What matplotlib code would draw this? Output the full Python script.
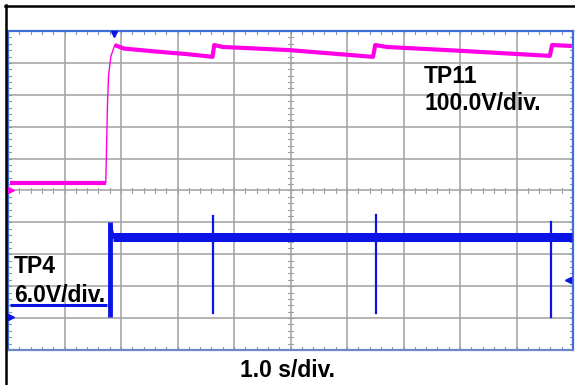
import matplotlib
matplotlib.use("Agg")
import matplotlib.pyplot as plt
import numpy as np

W, H = 575, 385

# ---- data (time in s, values in divisions) ----
tp11_t = [0.03, 1.73, 1.75, 1.76, 1.78, 1.82, 1.89, 2.05, 2.6, 3.2, 3.62,
          3.65, 3.8, 4.99, 6.46, 6.50, 6.7, 8.0, 9.59, 9.63, 9.98]
tp11_v = [5.24, 5.24, 6.8, 7.68, 8.6, 9.2, 9.56, 9.45, 9.36, 9.27, 9.19,
          9.56, 9.50, 9.40, 9.19, 9.56, 9.50, 9.38, 9.22, 9.56, 9.53]

tp4_t = [0.03, 1.75]
tp4_v = [1.41, 1.41]
tp4_high_t = [1.86, 9.98]
tp4_high_v = [3.54, 3.54]
tp4_edge_t = 1.81
tp4_edge_range = (1.03, 4.01)
spike_t = [3.62, 6.51, 9.61]
spike_top = [4.19, 4.22, 4.02]
spike_bottom = [1.16, 1.16, 1.04]

labels = {
    "tp11": ("TP11", "100.0V/div."),
    "tp4": ("TP4", "6.0V/div."),
    "time": "1.0 s/div.",
}

PINK = "#ff00e6"
BLUE = "#0a14e6"
GRID = "#a0a0a0"
FRAME_BLUE = "#3f6fd6"

fig = plt.figure(figsize=(W / 100, H / 100), dpi=100)
fig.patch.set_facecolor("white")

def fx(px):
    return px / W

def fy(py):
    return 1 - py / H

# outer black frame (only top and left edges fall inside the picture)
fig.add_artist(plt.Line2D([fx(5), fx(W + 5)], [fy(5.5), fy(5.5)], transform=fig.transFigure,
                          color="black", lw=1.8))
fig.add_artist(plt.Line2D([fx(5.5), fx(5.5)], [fy(5), fy(H + 5)], transform=fig.transFigure,
                          color="black", lw=1.8))

L, R, T, B = 8, 573, 31, 350
ax = fig.add_axes([fx(L), fy(B), (R - L) / W, (B - T) / H])
ax.set_xlim(0, 10)
ax.set_ylim(0, 10)
ax.set_xticks([])
ax.set_yticks([])
for s in ax.spines.values():
    s.set_color(FRAME_BLUE)
    s.set_linewidth(1.6)
ax.spines["bottom"].set_color("#6f86c8")

# grid
for i in range(1, 10):
    ax.axvline(i, color=GRID, lw=1.1, zorder=1)
    ax.axhline(i, color=GRID, lw=1.1, zorder=1)

# minor ticks
minor = np.arange(0, 10.001, 0.2)
dx = 3 / 56.5
dy = 3 / 31.9
for m in minor:
    ax.plot([m, m], [10, 10 - dy], color="#8a94b8", lw=0.8, zorder=1)
    ax.plot([m, m], [0, dy], color="#8a94b8", lw=0.8, zorder=1)
    ax.plot([m, m], [5 - dy * 0.7, 5 + dy * 0.7], color=GRID, lw=0.8, zorder=1)
    ax.plot([0, dx], [m, m], color="#8a94b8", lw=0.8, zorder=1)
    ax.plot([10, 10 - dx], [m, m], color="#8a94b8", lw=0.8, zorder=1)
    ax.plot([5 - dx * 0.7, 5 + dx * 0.7], [m, m], color=GRID, lw=0.8, zorder=1)

# TP11 trace
ax.plot(tp11_t[:2], tp11_v[:2], color=PINK, lw=3.0, solid_capstyle="butt", zorder=3)
ax.plot(tp11_t[1:7], tp11_v[1:7], color=PINK, lw=1.0, zorder=3)
ax.plot(tp11_t[6:], tp11_v[6:], color=PINK, lw=3.0, solid_capstyle="butt", zorder=3)

# TP4 trace
ax.plot(tp4_t, tp4_v, color=BLUE, lw=2.2, solid_capstyle="butt", zorder=3)
ax.plot([tp4_edge_t, tp4_edge_t], tp4_edge_range, color=BLUE, lw=3.5,
        solid_capstyle="butt", zorder=3)
ax.plot([tp4_edge_t, tp4_high_t[0]], [tp4_edge_range[1] - 0.1, tp4_high_v[0]], color=BLUE, lw=2.5, zorder=3)
ax.plot(tp4_high_t, tp4_high_v, color=BLUE, lw=6.5, solid_capstyle="butt", zorder=3)
for t, hi, lo in zip(spike_t, spike_top, spike_bottom):
    ax.plot([t, t], [lo, hi], color=BLUE, lw=1.6, zorder=3)

# markers
ax.plot([1.88], [9.92], marker="v", color=BLUE, markersize=5, zorder=4, clip_on=False)
ax.plot([0.06], [5.0], marker=">", color=PINK, markersize=5, zorder=4, clip_on=False)
ax.plot([0.06], [1.04], marker=">", color=BLUE, markersize=5, zorder=4, clip_on=False)
ax.plot([9.92], [2.19], marker="<", color=BLUE, markersize=4, zorder=4, clip_on=False)

font = dict(family=["Liberation Sans", "DejaVu Sans"], weight="bold", size=16.5, color="black")
fig.text(fx(424), fy(83.3), labels["tp11"][0], ha="left", va="baseline", **font)
fig.text(fx(424), fy(110), labels["tp11"][1], ha="left", va="baseline", **font)
fig.text(fx(14), fy(273), labels["tp4"][0], ha="left", va="baseline", **font)
fig.text(fx(14), fy(301.5), labels["tp4"][1], ha="left", va="baseline", **font)
fig.text(fx(287), fy(376.7), labels["time"], ha="center", va="baseline", **font)

fig.savefig("out.png", dpi=100)
